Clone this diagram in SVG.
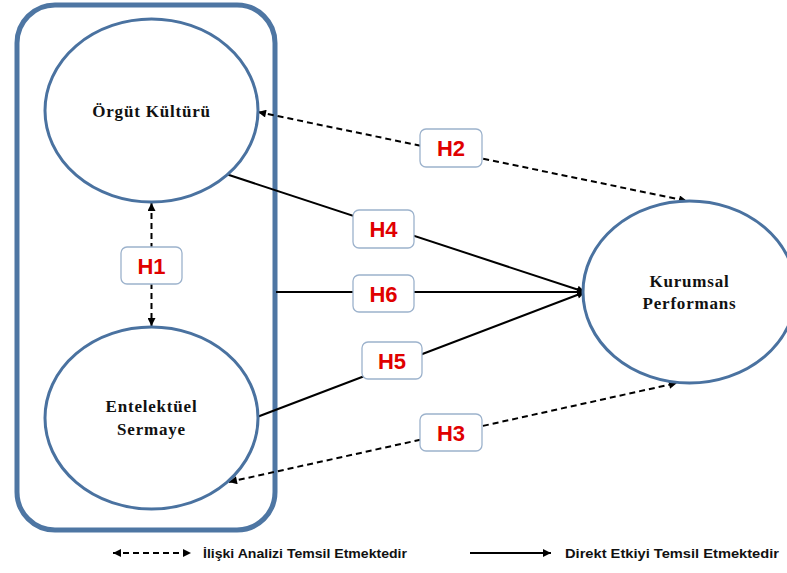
<svg xmlns="http://www.w3.org/2000/svg" width="787" height="573" viewBox="0 0 787 573">
  <style>
    .conn { stroke: #000; stroke-width: 2; fill: none; }
    .dash { stroke-dasharray: 6 4; }
    .ell { fill: #fff; stroke: #4a72a0; stroke-width: 3; }
    .box { fill: #fff; stroke: #9cb2cc; stroke-width: 1.3; }
    .hl { font-family: "Liberation Sans", Arial, sans-serif; font-weight: bold; font-size: 22px; fill: #e00000; text-anchor: middle; }
    .nl { font-family: "Liberation Serif", "Times New Roman", serif; font-weight: bold; font-size: 17px; fill: #111; text-anchor: middle; letter-spacing: 0.8px; }
    .lg { font-family: "Liberation Sans", Arial, sans-serif; font-weight: bold; font-size: 13px; fill: #111; }
  </style>
  <defs>
    <marker id="ah" viewBox="0 0 10 10" refX="10" refY="5" markerWidth="9" markerHeight="8" markerUnits="userSpaceOnUse" orient="auto-start-reverse">
      <path d="M0,0 L10,5 L0,10 z" fill="#000"/>
    </marker>
  </defs>
  <rect width="787" height="573" fill="#fff"/>

  <g id="container">
    <rect x="17" y="5" width="258" height="525" rx="38" ry="38" fill="none" stroke="#4e76a3" stroke-width="5"/>
  </g>

  <g id="connectors">
    <line class="conn dash" x1="151.5" y1="203" x2="151.5" y2="326" marker-start="url(#ah)" marker-end="url(#ah)"/>
    <line class="conn dash" x1="258" y1="112" x2="687" y2="201" marker-start="url(#ah)" marker-end="url(#ah)"/>
    <line class="conn dash" x1="229" y1="482" x2="677" y2="383" marker-start="url(#ah)" marker-end="url(#ah)"/>
    <line class="conn" x1="226" y1="174" x2="585" y2="292" marker-end="url(#ah)"/>
    <line class="conn" x1="276" y1="292" x2="585" y2="292" marker-end="url(#ah)"/>
    <line class="conn" x1="257" y1="417" x2="585" y2="292" marker-end="url(#ah)"/>
  </g>

  <g id="node-orgut-kulturu">
    <ellipse class="ell" cx="151.5" cy="110.5" rx="106.5" ry="91.5"/>
    <text class="nl" x="151.5" y="117">Örgüt Kültürü</text>
  </g>
  <g id="node-entelektuel-sermaye">
    <ellipse class="ell" cx="151.5" cy="418" rx="106.5" ry="91"/>
    <text class="nl" x="151.5" y="412">Entelektüel</text>
    <text class="nl" x="151.5" y="435">Sermaye</text>
  </g>
  <g id="node-kurumsal-performans">
    <ellipse class="ell" cx="689.5" cy="292" rx="106.5" ry="91"/>
    <text class="nl" x="689.5" y="287">Kurumsal</text>
    <text class="nl" x="689.5" y="309">Performans</text>
  </g>

  <g id="label-h1">
    <rect class="box" x="121" y="247" width="61" height="37" rx="6"/>
    <text class="hl" x="151.5" y="273.5">H1</text>
  </g>
  <g id="label-h2">
    <rect class="box" x="420" y="129" width="62" height="38" rx="6"/>
    <text class="hl" x="451" y="156">H2</text>
  </g>
  <g id="label-h4">
    <rect class="box" x="353" y="210" width="61" height="38" rx="6"/>
    <text class="hl" x="383.5" y="237">H4</text>
  </g>
  <g id="label-h6">
    <rect class="box" x="353" y="275" width="61" height="37" rx="6"/>
    <text class="hl" x="383.5" y="301.5">H6</text>
  </g>
  <g id="label-h5">
    <rect class="box" x="362" y="342" width="60" height="37" rx="6"/>
    <text class="hl" x="392" y="368.5">H5</text>
  </g>
  <g id="label-h3">
    <rect class="box" x="420" y="414" width="62" height="37" rx="6"/>
    <text class="hl" x="451" y="440.5">H3</text>
  </g>

  <g id="legend">
    <line class="conn dash" x1="113" y1="553" x2="191" y2="553" stroke-width="1.6" marker-start="url(#ah)" marker-end="url(#ah)"/>
    <text class="lg" x="203" y="557.5" textLength="204" lengthAdjust="spacingAndGlyphs">İlişki Analizi Temsil Etmektedir</text>
    <line class="conn" x1="470" y1="553" x2="551" y2="553" stroke-width="1.6" marker-end="url(#ah)"/>
    <text class="lg" x="565" y="557.5" textLength="214" lengthAdjust="spacingAndGlyphs">Direkt Etkiyi Temsil Etmektedir</text>
  </g>
</svg>
